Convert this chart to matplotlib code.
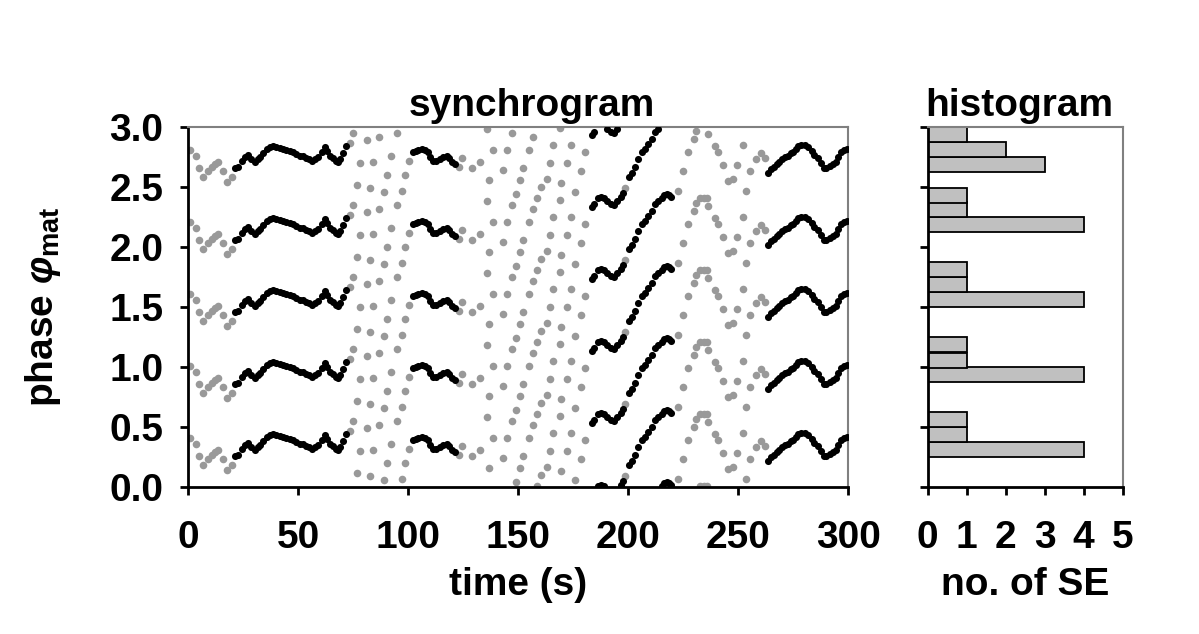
import matplotlib
matplotlib.use('Agg')
import matplotlib.pyplot as plt
import numpy as np

plt.rcParams['font.family'] = ['Liberation Sans', 'DejaVu Sans']
plt.rcParams['font.weight'] = 'bold'
plt.rcParams['mathtext.fontset'] = 'custom'
plt.rcParams['mathtext.rm'] = 'Liberation Sans:bold'
plt.rcParams['mathtext.it'] = 'Liberation Sans:italic:bold'

# synchrogram: phase within one stripe (period 0.6), repeated for 5 stripes
n_stripes = 5
stripe = 0.6

# synchronised epochs (black)
black_time = [21.1, 22.5, 24.2, 25.5, 27.2, 28.5, 30.2, 31.5, 32.5, 34.0, 35.5, 37.0,
              38.6, 40.0, 41.6, 43.0, 44.5, 46.1, 47.5, 49.0, 50.7, 52.0, 53.5, 55.0,
              56.0, 57.5, 59.0, 60.5, 62.0, 63.0, 64.3, 65.5, 67.0, 68.0, 69.0, 70.1, 71.8,
              102.2, 103.5, 104.5, 106.0, 107.5, 109.0, 110.0, 111.3, 112.5, 114.3, 115.5,
              117.4, 118.5, 120.0, 121.1,
              183.5, 184.5, 186.0, 187.5, 189.0, 190.5, 192.0, 193.5, 195.0, 196.5, 197.5,
              200.4, 201.5, 202.9, 204.5, 206.0, 207.5, 209.0, 210.6, 212.1, 213.5, 215.1,
              216.3, 217.4, 218.5, 219.5,
              263.6, 265.0, 266.0, 267.4, 268.5, 270.0, 271.2, 272.5, 274.0, 275.0, 276.0,
              277.2, 278.5, 280.3, 281.5, 283.3, 284.5, 286.3, 287.5, 288.9, 290.0, 291.6,
              293.0, 294.3, 295.5, 296.9, 298.0, 299.2]
black_phase = [0.256, 0.27, 0.32, 0.35, 0.367, 0.33, 0.306, 0.33, 0.348, 0.38, 0.417, 0.435,
               0.444, 0.435, 0.422, 0.42, 0.41, 0.40, 0.39, 0.375, 0.36, 0.355, 0.345, 0.33,
               0.32, 0.33, 0.35, 0.39, 0.43, 0.40, 0.36, 0.34, 0.32, 0.306, 0.33, 0.38, 0.44,
               0.394, 0.40, 0.41, 0.42, 0.41, 0.389, 0.35, 0.32, 0.32, 0.333, 0.35,
               0.36, 0.34, 0.31, 0.29,
               0.53, 0.56, 0.61, 0.62, 0.61, 0.58, 0.555, 0.55, 0.58, 0.62, 0.65,
               0.18, 0.22, 0.27, 0.33, 0.39, 0.42, 0.46, 0.50, 0.556, 0.58, 0.61,
               0.63, 0.64, 0.635, 0.62,
               0.22, 0.25, 0.27, 0.29, 0.31, 0.33, 0.35, 0.36, 0.38, 0.39, 0.42,
               0.44, 0.45, 0.45, 0.43, 0.40, 0.37, 0.34, 0.30, 0.256, 0.26, 0.277,
               0.29, 0.31, 0.35, 0.39, 0.41, 0.42]

# non-synchronised beats (grey)
grey_time = [0.7, 3.3, 4.9, 6.7, 9.0, 10.5, 12.0, 13.6, 15.5, 17.3, 19.6,
             73.4, 74.6, 76.7, 77.9, 81.0, 82.5, 84.0, 86.7, 88.8, 90.4, 92.3, 94.9,
             96.9, 98.4, 100.4,
             123.1, 124.2, 128.7, 132.5, 135.7, 136.7, 138.5, 142.8, 144.6, 147.1, 148.9,
             150.7, 152.2, 154.9, 156.7, 158.3, 160.1, 162.8, 164.6, 165.8, 168.9, 169.6,
             172.2, 174.1, 175.7, 178.3, 180.2, 198.4,
             222.6, 224.9, 227.2, 229.7, 230.9, 232.5, 234.2, 235.8, 236.3, 239.3, 240.8,
             243.1, 245.4, 247.4, 249.2, 251.9, 253.4, 255.5, 258.0, 260.1, 262.1]
grey_phase = [0.41, 0.36, 0.255, 0.18, 0.235, 0.265, 0.29, 0.305, 0.23, 0.14, 0.18,
              0.47, 0.55, 0.115, 0.30, 0.49, 0.09, 0.31, 0.52, 0.055, 0.20, 0.36, 0.55,
              0.07, 0.20, 0.32,
              0.27, 0.345, 0.26, 0.31, 0.58, 0.16, 0.41, 0.245, 0.41, 0.55, 0.04,
              0.16, 0.26, 0.41, 0.52, 0.005, 0.10, 0.17, 0.30, 0.45, 0.59, 0.13,
              0.30, 0.45, 0.055, 0.23, 0.39, 0.09,
              0.07, 0.23, 0.39, 0.50, 0.57, 0.01, 0.01, 0.005, 0.54, 0.44, 0.39,
              0.28, 0.15, 0.17, 0.28, 0.45, 0.07, 0.23, 0.33, 0.38, 0.34]

# histogram of synchronisation epochs
hist_phase = [0.315, 0.44, 0.565, 0.935, 1.055, 1.185, 1.56, 1.69, 1.815,
              2.19, 2.315, 2.43, 2.685, 2.81, 2.935]
hist_count = [4, 1, 1, 4, 1, 1, 4, 1, 1, 4, 1, 1, 3, 2, 1]

fig = plt.figure(figsize=(11.99, 6.34), dpi=100)
ax = fig.add_axes([0.1572, 0.2319, 0.5503, 0.5678])
axh = fig.add_axes([0.7737, 0.2319, 0.1626, 0.5678])

for k in range(n_stripes):
    ax.scatter(grey_time, np.mod(grey_phase, stripe) + stripe * k,
               s=30, color='#999999', linewidths=0, zorder=2)
    ax.scatter(black_time, np.mod(black_phase, stripe) + stripe * k,
               s=26, color='black', linewidths=0, zorder=3)

ax.set_xlim(0, 300)
ax.set_ylim(0, 3.0)
ax.set_xticks([0, 50, 100, 150, 200, 250, 300])
ax.set_yticks([0.0, 0.5, 1.0, 1.5, 2.0, 2.5, 3.0])
ax.set_yticklabels(['0.0', '0.5', '1.0', '1.5', '2.0', '2.5', '3.0'])
ax.set_title('synchrogram', fontsize=28, fontweight='bold', x=0.52, pad=8)
ax.set_xlabel('time (s)', fontsize=28, fontweight='bold', labelpad=8)
ax.set_ylabel(r'phase $\varphi_{\mathregular{mat}}$', fontsize=28, fontweight='bold')
ax.yaxis.set_label_coords(-0.19, 0.5)

axh.barh(hist_phase, hist_count, height=0.125, color='#c0c0c0',
         edgecolor='black', linewidth=1.3)
axh.set_xlim(0, 5)
axh.set_ylim(0, 3.0)
axh.set_xticks([0, 1, 2, 3, 4, 5])
axh.set_yticks([0.0, 0.5, 1.0, 1.5, 2.0, 2.5, 3.0])
axh.set_yticklabels([])
axh.set_title('histogram', fontsize=28, fontweight='bold', x=0.47, pad=8)
axh.set_xlabel('no. of SE', fontsize=28, fontweight='bold', labelpad=8)

for a in (ax, axh):
    a.spines['left'].set_linewidth(2)
    a.spines['bottom'].set_linewidth(2)
    a.spines['top'].set_color('#808080')
    a.spines['right'].set_color('#808080')
    a.spines['top'].set_linewidth(1.5)
    a.spines['right'].set_linewidth(1.5)
    a.tick_params(axis='both', direction='out', length=6, width=2, labelsize=28)
    a.tick_params(axis='y', pad=12)
    a.tick_params(axis='x', pad=18)
    for lab in a.get_xticklabels() + a.get_yticklabels():
        lab.set_fontweight('bold')

fig.savefig('out.png', dpi=100)
